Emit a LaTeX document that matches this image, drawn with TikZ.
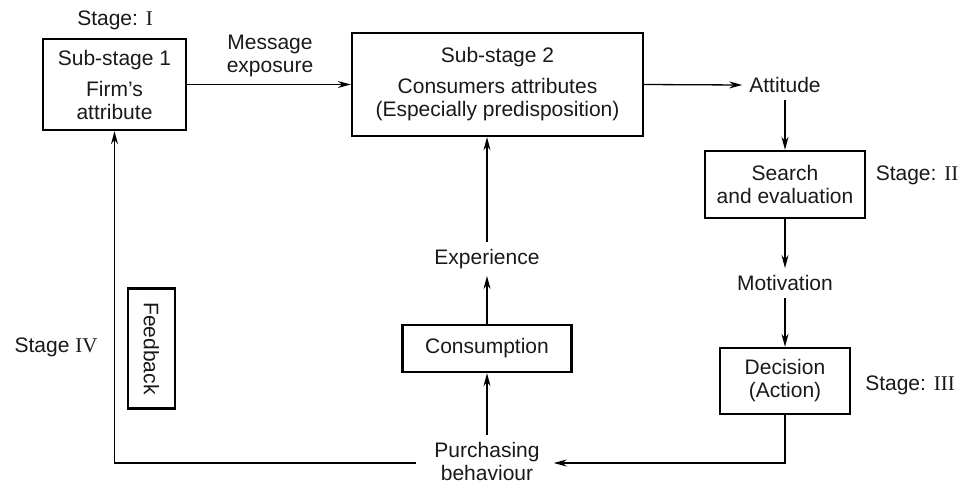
\documentclass[tikz,border=0pt]{standalone}
\usepackage{fontspec}
\setmainfont{Liberation Sans}
\newfontfamily\romfont{Liberation Serif}
\usetikzlibrary{arrows.meta}
\begin{document}
\begin{tikzpicture}[x=1pt,y=-1pt,
 every node/.style={font=\fontsize{21}{23}\selectfont, inner sep=0pt, text=black!90},
 box/.style={draw, line width=2.4pt, align=center},
 lbl/.style={align=center, inner sep=7pt},
 arr/.style={line width=1.3pt, -{Stealth[length=13pt,width=7pt]}}]
\useasboundingbox (0,0) rectangle (964,485);
\node[box, minimum width=143, minimum height=91] (b1) at (114.5,84.5) {Sub-stage 1\\[8pt]Firm’s\\attribute};
\node (st1) at (115,20) {Stage: {\romfont I}};
\node[lbl] (msg) at (270,55.5) {Message\\exposure};
\node[box, minimum width=291, minimum height=103] (b2) at (497.5,84.5) {Sub-stage 2\\[8pt]Consumers attributes\\(Especially predisposition)};
\node[lbl] (att) at (785,85) {Attitude};
\node[box, minimum width=160, minimum height=67] (se) at (785,184.5) {Search\\and evaluation};
\node (st2) at (917,175) {Stage: {\romfont II}};
\node[lbl] (mot) at (785,283) {Motivation};
\node[box, minimum width=130, minimum height=66] (dec) at (785,381) {Decision\\(Action)};
\node (st3) at (910,385) {Stage: {\romfont III}};
\node[box, minimum width=169, minimum height=47] (cons) at (487,348.5) {Consumption};
\node[lbl] (exp) at (487,259) {Experience};
\node[lbl] (pur) at (487,461) {Purchasing\\behaviour};
\node[box, minimum width=120, minimum height=47, rotate=-90] (fb) at (151.5,348.5) {Feedback};
\node (st4) at (56,347) {Stage {\romfont IV}};
\coordinate (lineY) at (0,463);
\draw[arr] (b1.east) -- (b2.west);
\draw[arr] (b2.east) -- (att.west);
\draw[arr] (att.south) -- (se.north);
\draw[arr] (se.south) -- (mot.north);
\draw[arr] (mot.south) -- (dec.north);
\draw[arr] (dec.south) -- (dec.south |- lineY) -- ([xshift=7pt]pur.east |- lineY);
\draw[arr] ([xshift=-11pt]pur.west |- lineY) -| (b1.south);
\draw[arr] (pur.north) -- (cons.south);
\draw[arr] (cons.north) -- (exp.south);
\draw[arr] (exp.north) -- (exp.north |- b2.south);
\end{tikzpicture}
\end{document}
